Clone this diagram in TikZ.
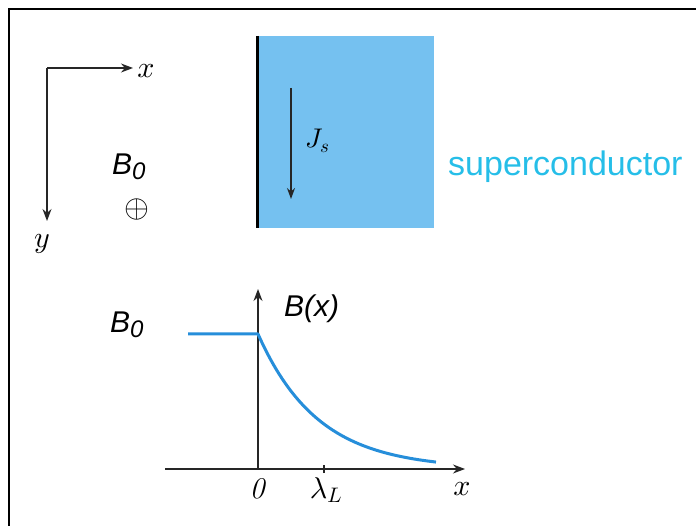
\documentclass[tikz,border=0pt]{standalone}
\usepackage{fontspec}
\setsansfont{Liberation Sans}
\usepackage{tikz}
\usetikzlibrary{arrows.meta}
\DeclareFontShape{OML}{cmm}{m}{it}{<->cmmi10}{}
\DeclareFontShape{OMS}{cmsy}{m}{n}{<->cmsy10}{}
\definecolor{slabblue}{RGB}{117,193,240}
\definecolor{fieldblue}{RGB}{38,142,218}
\definecolor{sctext}{RGB}{38,190,232}
\newcommand{\subzero}{\raisebox{-5pt}{\fontsize{24}{24}\selectfont 0}}

\begin{document}
\begin{tikzpicture}[x=1pt, y=-1pt, every node/.style={inner sep=0pt},
  ser/.style={font=\fontsize{30}{34}\selectfont},
  sans/.style={font=\fontsize{30}{34}\selectfont\sffamily\itshape},
  arrow/.style={-{Stealth[length=12pt, width=9pt]}, line width=1.3pt, black!85},
  thinarrow/.style={-{Stealth[length=11pt, width=8pt]}, line width=1.1pt, black!85},
  curve/.style={fieldblue, line width=3pt, line join=round}]
\useasboundingbox (0,0) rectangle (696,526);
\draw[line width=2pt] (9,526) -- (9,9) -- (696,9);

\coordinate (O) at (47,68);
\coordinate (xtip) at (133,68);
\coordinate (ytip) at (47,221);
\draw[arrow] (O) -- (xtip);
\draw[arrow] (O) -- (ytip);
\node[ser] (xlab) at (146,71) {$x$};
\node[ser] (ylab) at (42,244) {$y$};
\node[sans, anchor=base west] (Btop) at (112,175) {B\subzero};
\node[font=\fontsize{32}{34}\selectfont] (into) at (137,210) {$\oplus$};

\node[fill=slabblue, minimum width=177pt, minimum height=192pt,
  anchor=north west] (slab) at (257,36) {};
\draw[line width=3pt] (slab.north west) -- (slab.south west);
\coordinate (jtop) at (291,88);
\coordinate (jbot) at (291,199);
\draw[thinarrow] (jtop) -- (jbot);
\node[font=\fontsize{27}{30}\selectfont, anchor=base west] (Js) at (305,148) {$J_s$};
\node[font=\fontsize{34}{38}\selectfont\sffamily, text=sctext,
  anchor=base west] (sc) at (448,176) {superconductor};

\coordinate (ax0) at (165,469);
\coordinate (axend) at (465,469);
\coordinate (orig) at (258,469);
\coordinate (aytip) at (258,289);
\draw[arrow] (ax0) -- (axend);
\draw[arrow] (orig) -- (aytip);
\coordinate (Bleft) at (188,334);
\coordinate (Bedge) at (258,334);
\draw[curve] (Bleft) -- (Bedge)
  -- plot[domain=0:178, samples=60] ({258+\x},{469-135*exp(-\x/60)});
\coordinate (lam) at (324,469);
\draw[line width=1.3pt, black!85] ([yshift=-4pt]lam) -- ([yshift=4pt]lam);
\node[sans, anchor=base west] (Bbot) at (110,333) {B\subzero};
\node[sans, anchor=base west] (Bx) at (284,317) {B(x)};
\node[ser] (zero) at (257,489) {\itshape 0};
\node[ser] (lamlab) at (326,490) {$\lambda_L$};
\node[ser] (xaxis) at (462,489) {$x$};
\end{tikzpicture}
\end{document}
